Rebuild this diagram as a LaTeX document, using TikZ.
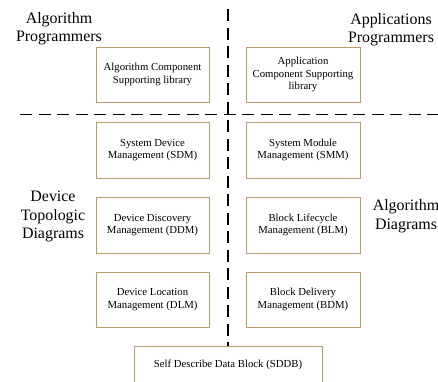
\documentclass[tikz,border=0pt]{standalone}
\usepackage{fontspec}
\setmainfont{Liberation Serif}
\definecolor{boxc}{HTML}{B89A6C}
\begin{document}
\begin{tikzpicture}[x=1bp,y=-1bp,
  blk/.style={draw=boxc,line width=0.9bp,fill=white,inner sep=0pt,
    font=\fontsize{10.8}{12.5}\selectfont,align=center},
  big/.style={font=\fontsize{16}{18.5}\selectfont,align=center,inner sep=0pt},
  sep/.style={line width=1.7bp,dash pattern=on 12bp off 6.5bp}]
\useasboundingbox[fill=white] (0,0) rectangle (438,381);
% separators
\coordinate (vt) at (227.7,9);
\coordinate (hl) at (20,114.5);
\coordinate (hr) at (438,114.5);
\draw[sep] (hl) -- (hr);
% boxes
\node[blk,minimum width=113bp,minimum height=55bp] (acs) at (152.5,74.5) {Algorithm Component\\Supporting library};
\node[blk,minimum width=114bp,minimum height=55bp] (apcs) at (303,74.5) {Application\\Component Supporting\\library};
\node[blk,minimum width=113bp,minimum height=56bp] (sdm) at (152.5,150) {System Device\\Management (SDM)};
\node[blk,minimum width=114bp,minimum height=56bp] (smm) at (303,150) {System Module\\Management (SMM)};
\node[blk,minimum width=113bp,minimum height=56bp] (ddm) at (152.5,225) {Device Discovery\\Management (DDM)};
\node[blk,minimum width=114bp,minimum height=56bp] (blm) at (303,225) {Block Lifecycle\\Management (BLM)};
\node[blk,minimum width=113bp,minimum height=55bp] (dlm) at (152.5,299.5) {Device Location\\Management (DLM)};
\node[blk,minimum width=114bp,minimum height=55bp] (bdm) at (303,299.5) {Block Delivery\\Management (BDM)};
\node[blk,minimum width=188bp,minimum height=40bp,anchor=north] (sddb) at (228,346) {};
\node[font=\fontsize{10.8}{12.5}\selectfont,inner sep=0pt] (sddbt) at (228,365) {Self Describe Data Block (SDDB)};
\coordinate (vb) at (227.7,346);
\draw[sep] (vt) -- (vb);
% big labels
\node[big] (ap) at (59,28.5) {Algorithm\\Programmers};
\node[big] (pp) at (391,29.5) {Applications\\Programmers};
\node[big] (dt) at (53,216.5) {Device\\Topologic\\Diagrams};
\node[big] (ad) at (406,216) {Algorithm\\Diagrams};
\end{tikzpicture}
\end{document}
